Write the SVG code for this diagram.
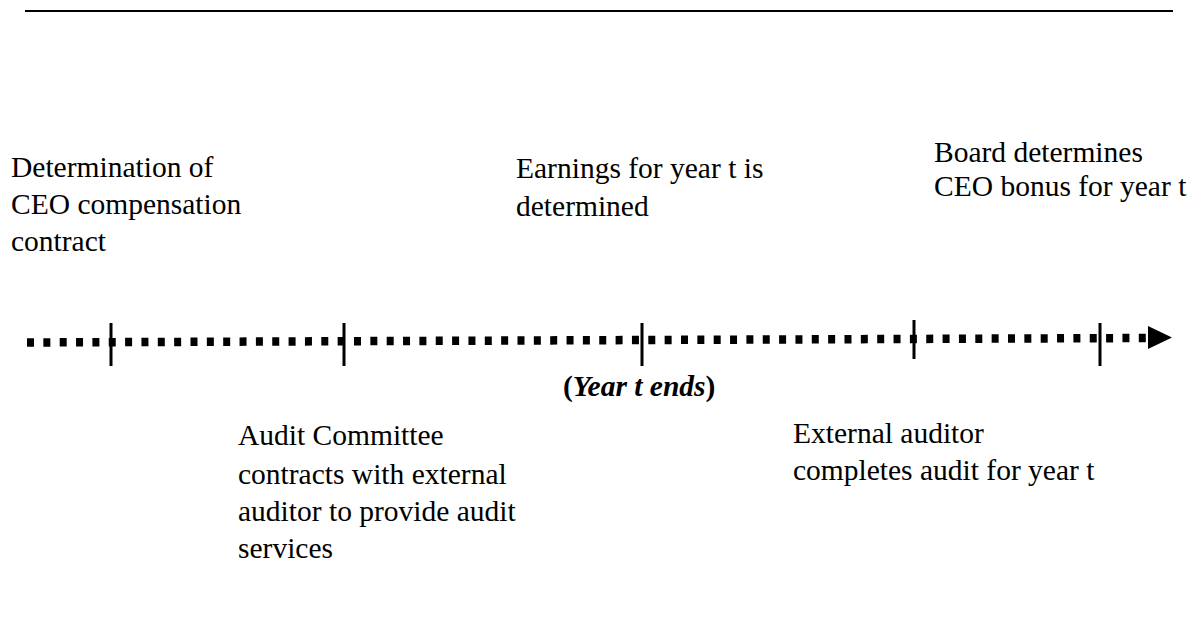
<svg xmlns="http://www.w3.org/2000/svg" width="1195" height="627" viewBox="0 0 1195 627">
  <style>
    .lbl { font-family: "Liberation Serif", "Times New Roman", serif; font-size: 29.5px; fill: #000; }
    .bi { font-weight: bold; font-style: italic; }
    .b { font-weight: bold; }
    .tick { stroke: #000; stroke-width: 3; }
    .rule { stroke: #000; stroke-width: 2; }
    .dots { stroke: #000; stroke-width: 8.5; stroke-dasharray: 7 9.35; fill: none; }
  </style>
  <defs>
    <marker id="arrowhead" markerWidth="24" markerHeight="24" refX="0" refY="12" orient="auto" markerUnits="userSpaceOnUse">
      <path d="M0,0 L24,12 L0,24 Z" fill="#000"/>
    </marker>
  </defs>

  <rect width="1195" height="627" fill="#fff"/>

  <!-- header rule -->
  <line class="rule" x1="25" y1="11" x2="1173" y2="11"/>

  <!-- timeline -->
  <g id="connectors">
    <path class="dots" d="M27,342.5 L1146,338"/>
    <path d="M1148,326 L1172,337.5 L1148,349 Z" fill="#000"/>
  </g>

  <g id="ceo-contract">
    <line class="tick" x1="111" y1="323" x2="111" y2="366"/>
    <text class="lbl" x="11" y="177">Determination of</text>
    <text class="lbl" x="11" y="214">CEO compensation</text>
    <text class="lbl" x="11" y="251">contract</text>
  </g>

  <g id="audit-committee">
    <line class="tick" x1="344" y1="323" x2="344" y2="366"/>
    <text class="lbl" x="238" y="445">Audit Committee</text>
    <text class="lbl" x="238" y="484">contracts with external</text>
    <text class="lbl" x="238" y="521">auditor to provide audit</text>
    <text class="lbl" x="238" y="558">services</text>
  </g>

  <g id="earnings">
    <line class="tick" x1="642" y1="323" x2="642" y2="366"/>
    <text class="lbl" x="516" y="178">Earnings for year t is</text>
    <text class="lbl" x="516" y="216">determined</text>
    <text class="lbl" x="563" y="396"><tspan class="b">(</tspan><tspan class="bi">Year t ends</tspan><tspan class="b">)</tspan></text>
  </g>

  <g id="external-audit">
    <line class="tick" x1="914" y1="320" x2="914" y2="359"/>
    <text class="lbl" x="793" y="443">External auditor</text>
    <text class="lbl" x="793" y="480">completes audit for year t</text>
  </g>

  <g id="ceo-bonus">
    <line class="tick" x1="1100" y1="323" x2="1100" y2="366"/>
    <text class="lbl" x="934" y="162">Board determines</text>
    <text class="lbl" x="934" y="196">CEO bonus for year t</text>
  </g>
</svg>
